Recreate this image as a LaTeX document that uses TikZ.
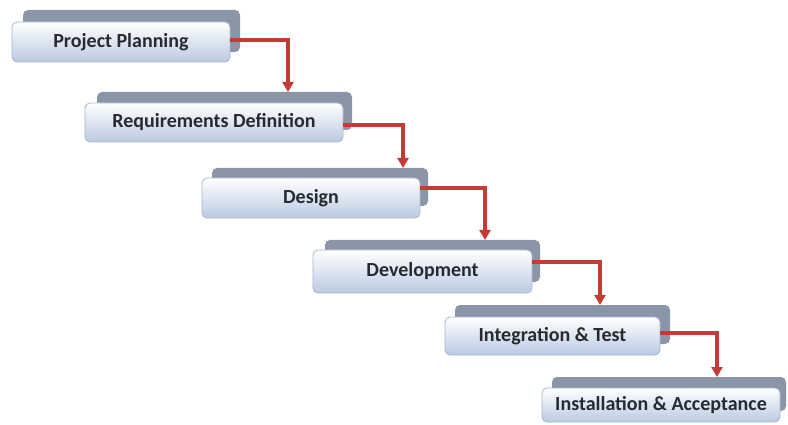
\documentclass[tikz,border=0pt]{standalone}
\usepackage{fontspec}
\setmainfont{Carlito}
\usetikzlibrary{arrows.meta}
\definecolor{backgray}{RGB}{138,150,168}
\definecolor{frontblue}{RGB}{186,202,226}
\definecolor{frontedge}{RGB}{168,182,204}
\definecolor{flowred}{RGB}{196,58,52}
\definecolor{textdark}{RGB}{38,42,50}
\tikzset{
  backbox/.style={draw=none, fill=backgray, rounded corners=5pt, inner sep=0pt, outer sep=0pt},
  frontbox/.style={draw=frontedge, line width=0.8pt, rounded corners=5pt,
    top color=white, bottom color=frontblue, inner sep=0pt, outer sep=0pt,
    font=\fontsize{20}{22}\selectfont\bfseries, text=textdark},
  flow/.style={draw=flowred, line width=3.2pt,
    -{Triangle[length=10pt,width=11pt]}}
}
\begin{document}
\begin{tikzpicture}[x=1pt,y=-1pt]
\useasboundingbox (0,0) rectangle (788,425);
% back plates
\node[backbox, minimum width=217pt, minimum height=42pt] (b1) at (131.5,31) {};
\node[backbox, minimum width=255pt, minimum height=38pt] (b2) at (224.5,111) {};
\node[backbox, minimum width=216pt, minimum height=38pt] (b3) at (320,187) {};
\node[backbox, minimum width=215pt, minimum height=42pt] (b4) at (432.5,261) {};
\node[backbox, minimum width=215pt, minimum height=39pt] (b5) at (562.5,324.5) {};
\node[backbox, minimum width=234pt, minimum height=34pt] (b6) at (669,394) {};
% stage boxes
\node[frontbox, minimum width=218pt, minimum height=40pt] (f1) at (121,42) {Project Planning};
\node[frontbox, minimum width=258pt, minimum height=39pt] (f2) at (214,122.5) {Requirements Definition};
\node[frontbox, minimum width=218pt, minimum height=40pt] (f3) at (311,198) {Design};
\node[frontbox, minimum width=219pt, minimum height=43pt] (f4) at (422.5,271.5) {Development};
\node[frontbox, minimum width=215pt, minimum height=38pt] (f5) at (552.5,336) {Integration \& Test};
\node[frontbox, minimum width=238pt, minimum height=34pt] (f6) at (661,405) {Installation \& Acceptance};
% connectors
\draw[flow] ([yshift=2pt]f1.east) -| ([xshift=191pt]b2.north west);
\draw[flow] ([yshift=-2.5pt]f2.east) -| ([xshift=191pt]b3.north west);
\draw[flow] ([yshift=10pt]f3.east) -| ([xshift=160pt]b4.north west);
\draw[flow] ([yshift=9.5pt]f4.east) -| ([xshift=145pt]b5.north west);
\draw[flow] ([yshift=3pt]f5.east) -| ([xshift=165pt]b6.north west);
\end{tikzpicture}
\end{document}
